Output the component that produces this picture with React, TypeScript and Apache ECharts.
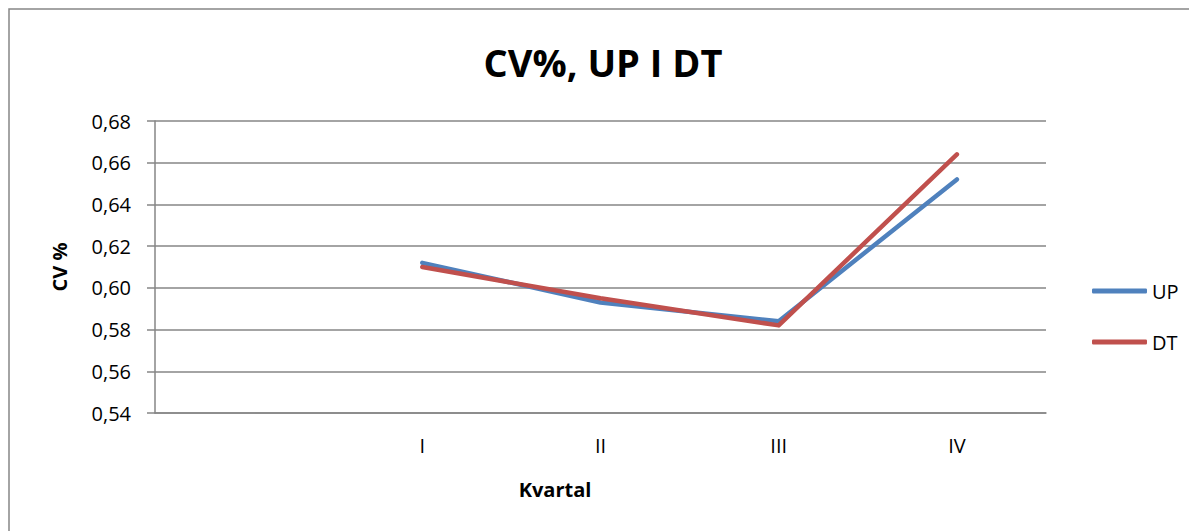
import React, { useEffect, useRef } from "react";
import * as echarts from "echarts";

const categories = ["", "I", "II", "III", "IV"];
const upValues = [null, 0.612, 0.593, 0.584, 0.652];
const dtValues = [null, 0.61, 0.595, 0.582, 0.664];
const yMin = 0.54;
const yMax = 0.68;
const yInterval = 0.02;

const FONT = "'Open Sans', 'Noto Sans', sans-serif";
const GRAY = "#868686";

export default function App() {
  const ref = useRef<HTMLDivElement>(null);
  useEffect(() => {
    document.body.style.margin = "0";
    const chart = echarts.init(ref.current!, null, { renderer: "svg" });
    chart.setOption({
      animation: false,
      backgroundColor: "#ffffff",
      textStyle: { fontFamily: FONT },
      grid: { left: 155, right: 143, top: 121, bottom: 118, containLabel: false },
      xAxis: {
        type: "category",
        data: categories,
        boundaryGap: true,
        axisLine: { show: true, lineStyle: { color: GRAY, width: 1.5 } },
        axisTick: { show: false },
        axisLabel: { color: "#000", fontSize: 20, fontFamily: FONT, margin: 22, interval: 0 },
        splitLine: { show: false },
      },
      yAxis: {
        type: "value",
        min: yMin,
        max: yMax,
        interval: yInterval,
        name: "CV %",
        nameLocation: "middle",
        nameGap: 86,
        nameRotate: 90,
        nameTextStyle: { color: "#000", fontSize: 20, fontWeight: "bold", fontFamily: FONT },
        axisLine: { show: true, lineStyle: { color: GRAY, width: 1.5 } },
        axisTick: { show: true, length: 8, lineStyle: { color: GRAY, width: 1.5 } },
        axisLabel: {
          color: "#000",
          fontSize: 20,
          fontFamily: FONT,
          margin: 24,
          formatter: (v: number) => v.toFixed(2).replace(".", ","),
        },
        splitLine: { show: true, lineStyle: { color: GRAY, width: 1.5 } },
      },
      legend: {
        orient: "vertical",
        left: 1087,
        top: 276,
        icon: "roundRect",
        itemWidth: 55,
        itemHeight: 5,
        itemGap: 31,
        textStyle: { color: "#000", fontSize: 20, fontFamily: FONT },
        data: ["UP", "DT"],
      },
      series: [
        {
          name: "UP",
          type: "line",
          data: upValues,
          symbol: "none",
          lineStyle: { color: "#4F81BD", width: 4.5, cap: "round", join: "round" },
          itemStyle: { color: "#4F81BD" },
        },
        {
          name: "DT",
          type: "line",
          data: dtValues,
          symbol: "none",
          lineStyle: { color: "#C0504D", width: 4.5, cap: "round", join: "round" },
          itemStyle: { color: "#C0504D" },
        },
      ],
      graphic: [
        {
          type: "rect",
          shape: { x: 9, y: 9, width: 1400, height: 800 },
          style: { fill: "none", stroke: GRAY, lineWidth: 1.5 },
          silent: true,
        },
        {
          type: "text",
          x: 603,
          y: 62,
          style: {
            text: "CV%, UP I DT",
            font: `bold 38px ${FONT}`,
            fill: "#000",
            textAlign: "center",
            textVerticalAlign: "middle",
          },
        },
        {
          type: "text",
          x: 555,
          y: 489,
          style: {
            text: "Kvartal",
            font: `bold 20px ${FONT}`,
            fill: "#000",
            textAlign: "center",
            textVerticalAlign: "middle",
          },
        },
      ],
    });
    return () => chart.dispose();
  }, []);
  return (
    <div
      ref={ref}
      style={{ position: "absolute", left: 0, top: 0, width: 1189, height: 531 }}
    />
  );
}
